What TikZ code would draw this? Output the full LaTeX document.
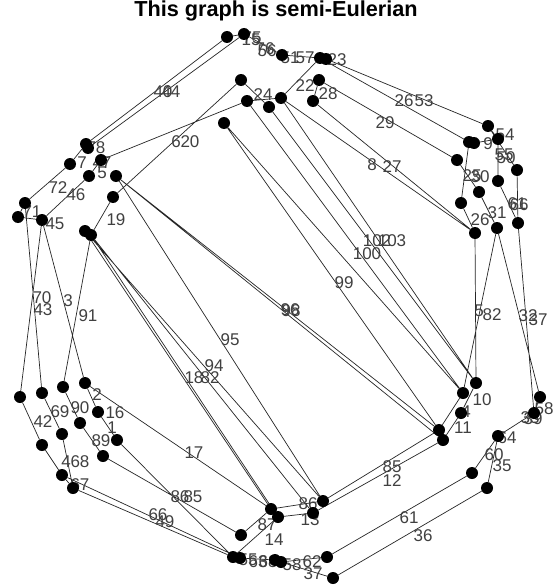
\documentclass[tikz,border=0pt]{standalone}
\usepackage{fontspec}
\setmainfont{Liberation Sans}
\pgfdeclarelayer{paper}
\pgfdeclarelayer{background}
\pgfsetlayers{paper,background,main}
\begin{document}
\begin{tikzpicture}[x=1pt,y=-1pt,
  v/.style={circle,fill=black,inner sep=0pt,minimum size=12pt},
  lab/.style={inner sep=0pt,text=black!75,font=\fontsize{17}{17}\selectfont},
  ed/.style={draw=black!85,line width=0.7pt}]
\begin{pgfonlayer}{paper}
\fill[white] (0,0) rectangle (553,586);
\end{pgfonlayer}
\useasboundingbox (0,0) rectangle (553,586);
\node[font=\bfseries\fontsize{21.7}{22}\selectfont] (title) at (276,11) {This graph is semi-Eulerian};
% vertices: top
\node[v] (t1) at (227,37) {};
\node[v] (t2) at (244,34) {};
\node[v] (t3) at (282,55) {};
\node[v] (t4) at (320,58) {};
\node[v] (t5) at (326,59) {};
\node[v] (t6) at (241,80) {};
\node[v] (t7) at (247,101) {};
\node[v] (t8) at (269,107) {};
\node[v] (t9) at (281,98) {};
\node[v] (t10) at (319,80) {};
\node[v] (t11) at (313,101) {};
\node[v] (t12) at (224,123) {};
% right upper
\node[v] (r1) at (488,126) {};
\node[v] (r2) at (469,142) {};
\node[v] (r3) at (474,143) {};
\node[v] (r4) at (498,139) {};
\node[v] (r5) at (457,160) {};
\node[v] (r6) at (517,170) {};
\node[v] (r7) at (498,181) {};
\node[v] (r8) at (479,192) {};
\node[v] (r9) at (461,203) {};
\node[v] (r10) at (475,233) {};
\node[v] (r11) at (497,228) {};
\node[v] (r12) at (518,223) {};
% left upper
\node[v] (l1) at (86,144) {};
\node[v] (l1b) at (88,148) {};
\node[v] (l2) at (70,164) {};
\node[v] (l3) at (101,160) {};
\node[v] (l4) at (89,176) {};
\node[v] (l5) at (116,176) {};
\node[v] (l6) at (113,197) {};
\node[v] (l7) at (25,203) {};
\node[v] (l8) at (18,217) {};
\node[v] (l9) at (42,220) {};
\node[v] (l10) at (85,231) {};
\node[v] (l11) at (91,235) {};
% left lower
\node[v] (b1) at (20,397) {};
\node[v] (b2) at (42,393) {};
\node[v] (b3) at (63,387) {};
\node[v] (b4) at (85,383) {};
\node[v] (b5) at (98,412) {};
\node[v] (b6) at (80,423) {};
\node[v] (b7) at (62,434) {};
\node[v] (b8) at (42,445) {};
\node[v] (b9) at (117,440) {};
\node[v] (b10) at (103,456) {};
\node[v] (b11) at (62,475) {};
\node[v] (b12) at (73,488) {};
% bottom centre
\node[v] (c1) at (271,509) {};
\node[v] (c2) at (278,517) {};
\node[v] (c3) at (323,501) {};
\node[v] (c4) at (313,513) {};
\node[v] (c5) at (241,535) {};
\node[v] (c6) at (233,557) {};
\node[v] (c7) at (240,558) {};
\node[v] (c8) at (275,560) {};
\node[v] (c9) at (281,562) {};
\node[v] (c10) at (327,557) {};
\node[v] (c11) at (333,578) {};
% right lower
\node[v] (d1) at (476,383) {};
\node[v] (d2) at (463,393) {};
\node[v] (d3) at (461,413) {};
\node[v] (d4) at (439,430) {};
\node[v] (d5) at (443,440) {};
\node[v] (d6) at (540,397) {};
\node[v] (d7) at (534,413) {};
\node[v] (d8) at (498,436) {};
\node[v] (d9) at (472,473) {};
\node[v] (d10) at (487,488) {};
\begin{pgfonlayer}{background}
% edges
\draw[ed] (t1)--(t2) (t1)--(l1) (t2)--(l1b) (t2)--(t3) (t3)--(t4) (t4)--(t5)
  (t5)--(r1) (t4)--(r2) (t10)--(r5) (t11)--(r10) (t9)--(r10) (t9)--(t4)
  (t10)--(t11) (t6)--(t8) (t7)--(t9) (t6)--(l6) (t7)--(l3)
  (t12)--(d4) (t12)--(d2) (t7)--(d2) (t8)--(d1) (t9)--(d1)
  (l5)--(d4) (l5)--(d5) (l5)--(c3)
  (l10)--(c1) (l11)--(c2) (l11)--(c4) (l10)--(c3)
  (l1)--(l2) (l2)--(l7) (l7)--(l8) (l8)--(l9) (l4)--(l9) (l3)--(l4)
  (l9)--(b1) (l7)--(b2) (l9)--(b4) (l11)--(b3) (l6)--(l11)
  (b1)--(b8) (b2)--(b7) (b3)--(b6) (b4)--(b5) (b5)--(b9) (b8)--(b11)
  (b7)--(b12) (b11)--(b12) (b6)--(b10) (b4)--(c1) (b10)--(c5) (b9)--(c6)
  (b11)--(c7) (b12)--(c6)
  (c5)--(c1) (c6)--(c2) (c1)--(c3) (c2)--(c4) (c3)--(d4) (c4)--(d5)
  (c6)--(c7) (c7)--(c8) (c8)--(c9) (c9)--(c10) (c9)--(c11)
  (c10)--(d9) (c11)--(d10) (d9)--(d8) (d10)--(d8) (d8)--(d7) (d7)--(d6)
  (d6)--(r11) (d7)--(r12)
  (d1)--(d3) (d2)--(d4) (d3)--(d5) (d1)--(r10) (d2)--(r11)
  (r1)--(r4) (r3)--(r4) (r2)--(r9) (r5)--(r8) (r8)--(r11) (r9)--(r10)
  (r4)--(r7) (r1)--(r6) (r7)--(r12) (r6)--(r12);
% edge labels
\node[lab] (e75) at (252,38) {75};
\node[lab] (e15) at (251,40) {15};
\node[lab] (e76) at (265,49) {76};
\node[lab] (e56) at (267,51) {56};
\node[lab] (e51) at (290,58) {51};
\node[lab] (e57) at (305,58) {57};
\node[lab] (e23) at (337,60) {23};
\node[lab] (e22) at (305,86) {22};
\node[lab] (e28) at (328,94) {28};
\node[lab] (e21) at (263,95) {24};
\node[lab] (e40) at (163,92) {40};
\node[lab] (e44) at (171,92) {44};
\node[lab] (e6) at (176,142) {6};
\node[lab] (e20) at (190,142) {20};
\node[lab] (e24) at (404,101) {26};
\node[lab] (e53) at (424,101) {53};
\node[lab] (e29) at (385,123) {29};
\node[lab] (e8) at (372,165) {8};
\node[lab] (e27) at (392,167) {27};
\node[lab] (e54) at (505,135) {54};
\node[lab] (e9) at (488,144) {9};
\node[lab] (e55) at (504,155) {55};
\node[lab] (e50) at (506,158) {50};
\node[lab] (e25) at (472,176) {25};
\node[lab] (e30) at (480,177) {30};
\node[lab] (e66) at (519,205) {66};
\node[lab] (e65) at (517,204) {61};
\node[lab] (e31) at (497,213) {31};
\node[lab] (e26) at (480,220) {26};
\node[lab] (e102) at (377,241) {102};
\node[lab] (e103) at (392,241) {103};
\node[lab] (e100) at (367,254) {100};
\node[lab] (e99) at (344,283) {99};
\node[lab] (e96) at (290,310) {96};
\node[lab] (e98) at (291,311) {98};
\node[lab] (e95) at (230,340) {95};
\node[lab] (e5) at (479,311) {5};
\node[lab] (e82) at (492,315) {82};
\node[lab] (e32) at (528,316) {32};
\node[lab] (e37) at (538,320) {37};
\node[lab] (e10) at (482,400) {10};
\node[lab] (e4) at (466,412) {4};
\node[lab] (e11) at (463,428) {11};
\node[lab] (e58) at (544,409) {58};
\node[lab] (e33) at (530,418) {33};
\node[lab] (e39) at (533,419) {39};
\node[lab] (e64) at (507,438) {64};
\node[lab] (e60) at (494,455) {60};
\node[lab] (e35) at (502,466) {35};
\node[lab] (e85r) at (392,467) {85};
\node[lab] (e12) at (392,481) {12};
\node[lab] (e61) at (409,518) {61};
\node[lab] (e36) at (423,536) {36};
\node[lab] (e86c) at (308,504) {86};
\node[lab] (e13) at (310,520) {13};
\node[lab] (e87) at (267,525) {87};
\node[lab] (e14) at (274,540) {14};
\node[lab] (e55b) at (248,560) {55};
\node[lab] (e63) at (258,562) {63};
\node[lab] (e68b) at (268,562) {68};
\node[lab] (e58b) at (292,565) {58};
\node[lab] (e62) at (312,562) {62};
\node[lab] (e37b) at (313,574) {37};
\node[lab] (e78) at (96,148) {78};
\node[lab] (e7) at (82,163) {7};
\node[lab] (e47) at (102,163) {47};
\node[lab] (e5b) at (102,173) {5};
\node[lab] (e72) at (58,188) {72};
\node[lab] (e46) at (76,195) {46};
\node[lab] (e71) at (32,212) {71};
\node[lab] (e45) at (55,224) {45};
\node[lab] (e19) at (116,220) {19};
\node[lab] (e70) at (42,298) {70};
\node[lab] (e43) at (43,310) {43};
\node[lab] (e3) at (68,301) {3};
\node[lab] (e91) at (88,316) {91};
\node[lab] (e94) at (214,366) {94};
\node[lab] (e18) at (194,378) {18};
\node[lab] (e92) at (210,378) {82};
\node[lab] (e2) at (97,395) {2};
\node[lab] (e42) at (43,422) {42};
\node[lab] (e69) at (60,412) {69};
\node[lab] (e90) at (80,408) {90};
\node[lab] (e16) at (115,413) {16};
\node[lab] (e1) at (112,428) {1};
\node[lab] (e89) at (101,441) {89};
\node[lab] (e17) at (194,453) {17};
\node[lab] (e48) at (66,462) {4};
\node[lab] (e68) at (80,462) {68};
\node[lab] (e67) at (80,485) {67};
\node[lab] (e86) at (180,497) {86};
\node[lab] (e85) at (193,497) {85};
\node[lab] (e66b) at (158,515) {66};
\node[lab] (e49) at (165,522) {49};
\end{pgfonlayer}
\end{tikzpicture}
\end{document}
